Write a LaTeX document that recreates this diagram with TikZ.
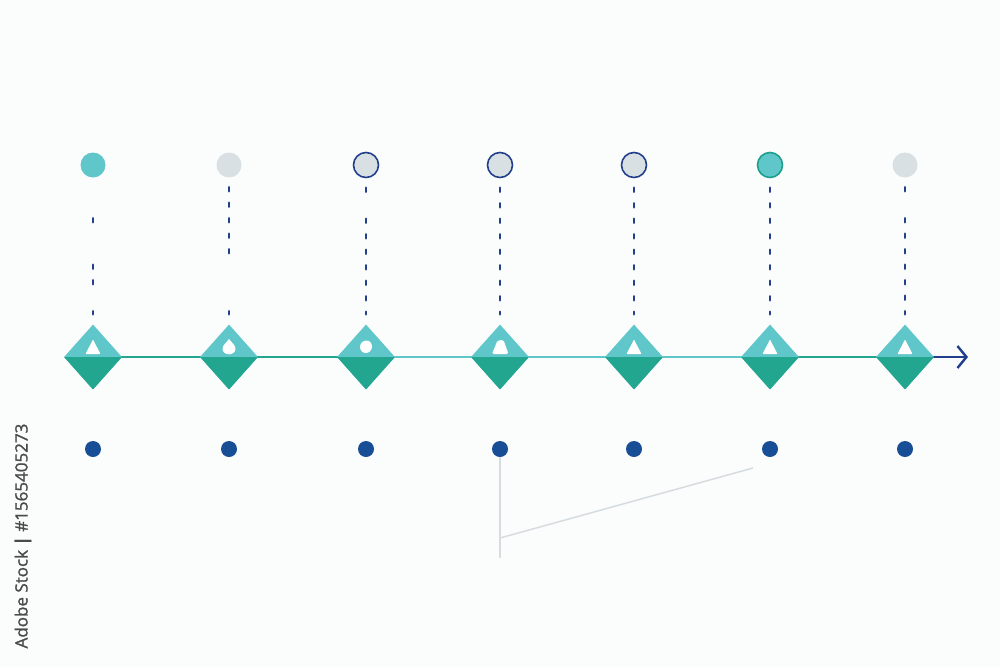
\documentclass[tikz,border=0pt]{standalone}
\usepackage{fontspec}
\newfontfamily\wmfont[FakeBold=1.2]{Open Sans}
\usetikzlibrary{shapes.geometric,arrows.meta}
\definecolor{tealL}{HTML}{5FC6C9}
\definecolor{tealD}{HTML}{22A68F}
\definecolor{navy}{HTML}{223F8C}
\definecolor{dotblue}{HTML}{174E96}
\definecolor{greyfill}{HTML}{D8E0E3}
\definecolor{greyline}{HTML}{D5DDE0}
\definecolor{ringteal}{HTML}{1E9E8C}
\definecolor{bg}{HTML}{FBFCFC}
\definecolor{wmtext}{HTML}{4A4A4A}
\begin{document}
\begin{tikzpicture}[x=1pt,y=-1pt,
  dia/.style={diamond, inner sep=0pt, minimum width=58pt, minimum height=65pt,
    fill=tealL, path picture={\fill[tealD] (path picture bounding box.west) rectangle (path picture bounding box.south east);}},
  topdot/.style={circle, inner sep=0pt, minimum size=25pt},
  lowdot/.style={circle, inner sep=0pt, minimum size=16pt, fill=dotblue},
  stem/.style={draw=navy, line width=2.8pt, line cap=round, shorten <=9.5pt, shorten >=10pt},
  full/.style={stem, dash pattern=on 4pt off 11.5pt},
  stemA/.style={stem, shorten <=40.5pt, dash pattern=on 4pt off 42.5pt on 4pt off 11.5pt on 4pt off 27pt on 4pt off 60pt},
  stemB/.style={stem, dash pattern=on 4pt off 11.5pt on 4pt off 11.5pt on 4pt off 11.5pt on 4pt off 11.5pt on 4pt off 58pt on 4pt off 60pt},
  stemC/.style={stem, dash pattern=on 4pt off 27pt on 4pt off 11.5pt on 4pt off 11.5pt on 4pt off 11.5pt on 4pt off 11.5pt on 4pt off 11.5pt on 4pt off 11.5pt on 4pt off 60pt},
  axisD/.style={draw=tealD, line width=2.2pt},
  axisL/.style={draw=tealL, line width=2.2pt},
  guide/.style={draw=greyline, line width=1.5pt},
  icon/.style={fill=white}]
\useasboundingbox (0,0) rectangle (1000,667);
\fill[bg] (0,0) rectangle (1000,667);

% top circles
\node[topdot, fill=tealL] (c1) at (93,165) {};
\node[topdot, fill=greyfill] (c2) at (229,165) {};
\node[topdot, fill=greyfill, draw=navy, line width=1.6pt] (c3) at (366,165) {};
\node[topdot, fill=greyfill, draw=navy, line width=1.6pt] (c4) at (500,165) {};
\node[topdot, fill=greyfill, draw=navy, line width=1.6pt] (c5) at (634,165) {};
\node[topdot, fill=tealL, draw=ringteal, line width=1.6pt] (c6) at (770,165) {};
\node[topdot, fill=greyfill] (c7) at (905,165) {};

% axis segments (behind diamonds)
\coordinate (tip) at (968,357);
\coordinate (a1) at (93,357);
\coordinate (a2) at (229,357);
\coordinate (a3) at (366,357);
\coordinate (a4) at (500,357);
\coordinate (a5) at (634,357);
\coordinate (a6) at (770,357);
\coordinate (a7) at (905,357);
\draw[axisD] (a1) -- (a2);
\draw[axisD] (a2) -- (a3);
\draw[axisL] (a3) -- (a4);
\draw[axisL] (a4) -- (a5);
\draw[axisL] (a5) -- (a6);
\draw[axisD] (a6) -- (a7);
\draw[draw=navy, line width=2.2pt, -{Straight Barb[length=9pt,width=22pt,line width=2.4pt]}] (a7) -- (tip);

% diamonds
\node[dia] (d1) at (a1) {};
\node[dia] (d2) at (a2) {};
\node[dia] (d3) at (a3) {};
\node[dia] (d4) at (a4) {};
\node[dia] (d5) at (a5) {};
\node[dia] (d6) at (a6) {};
\node[dia] (d7) at (a7) {};

% icons
\fill[icon, rounded corners=0.8pt] (85.5,354) -- (100.5,354) -- (93,339.5) -- cycle;
\fill[icon] (229,339) .. controls (231.2,342.3) and (235.5,345) .. (235.5,348.7)
  .. controls (235.5,352) and (232.5,354.3) .. (229,354.3)
  .. controls (225.5,354.3) and (222.5,352) .. (222.5,348.7)
  .. controls (222.5,345) and (226.8,342.3) .. cycle;
\fill[icon] (366.5,340.5) .. controls (369.8,340.5) and (372,343.3) .. (372,346.5)
  .. controls (372,350) and (369.3,353) .. (365.8,353)
  .. controls (362.5,353) and (360,350.3) .. (360,347)
  .. controls (360,343.3) and (363,340.5) .. cycle;
\fill[icon, rounded corners=1.5pt] (492,354) -- (508.5,354) -- (503.5,340) -- (497.5,340.5) -- cycle;
\fill[icon, rounded corners=0.8pt] (626.5,354) -- (641.5,354) -- (634,339.5) -- cycle;
\fill[icon, rounded corners=0.8pt] (762.5,354) -- (777.5,354) -- (770,339.5) -- cycle;
\fill[icon, rounded corners=0.8pt] (897.5,354) -- (912.5,354) -- (905,339.5) -- cycle;

% dotted stems
\draw[stemA] (c1.south) -- (d1.north);
\draw[stemB] (c2.south) -- (d2.north);
\draw[stemC] (c3.south) -- (d3.north);
\draw[full] (c4.south) -- (d4.north);
\draw[full] (c5.south) -- (d5.north);
\draw[full] (c6.south) -- (d6.north);
\draw[stemC] (c7.south) -- (d7.north);

% lower dots
\node[lowdot] (b1) at (93,449) {};
\node[lowdot] (b2) at (229,449) {};
\node[lowdot] (b3) at (366,449) {};
\node[lowdot] (b4) at (500,449) {};
\node[lowdot] (b5) at (634,449) {};
\node[lowdot] (b6) at (770,449) {};
\node[lowdot] (b7) at (905,449) {};

% grey guide lines
\coordinate (g1) at (500,558);
\coordinate (g2) at (500,538);
\coordinate (g3) at (753,468);
\draw[guide] (b4.south) -- (g1);
\draw[guide] (g2) -- (g3);

% side text
\node[rotate=90, text=wmtext, font=\wmfont\fontsize{17}{20}\selectfont, inner sep=0pt] (wm) at (23,536) {Adobe Stock \textbf{|} \#1565405273};
\end{tikzpicture}
\end{document}
